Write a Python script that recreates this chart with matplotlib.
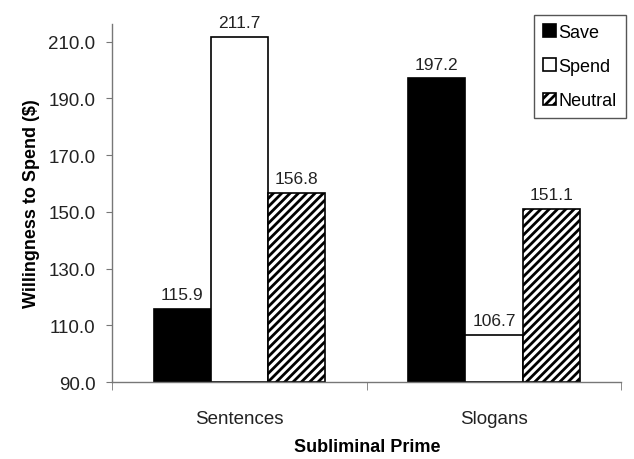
import numpy as np
import matplotlib
matplotlib.use("Agg")
import matplotlib.pyplot as plt
from matplotlib.ticker import FixedLocator, FormatStrFormatter

plt.rcParams['font.family'] = ['Liberation Sans', 'DejaVu Sans']
plt.rcParams['hatch.linewidth'] = 2.0

categories = ['Sentences', 'Slogans']
series = ['Save', 'Spend', 'Neutral']
save = [115.9, 197.2]
spend = [211.7, 106.7]
neutral = [156.8, 151.1]
yticks = [90, 110, 130, 150, 170, 190, 210]

fig = plt.figure(figsize=(6.34, 4.6), dpi=100)
ax = fig.add_axes([0.177, 0.167, 0.803, 0.779])

x = np.arange(len(categories))
w = 0.225
styles = [dict(color='black', edgecolor='black'),
          dict(color='white', edgecolor='black'),
          dict(color='white', edgecolor='black', hatch='////')]
for i, (vals, name, st) in enumerate(zip([save, spend, neutral], series, styles)):
    bars = ax.bar(x + (i - 1) * w, np.array(vals) - 90, bottom=90, width=w,
                  linewidth=1.2, label=name, **st)
    for b, v in zip(bars, vals):
        ax.text(b.get_x() + b.get_width() / 2, v + 2.3, f'{v:.1f}',
                ha='center', va='bottom', fontsize=12.5, color='#222222')

ax.set_xlim(-0.5, 1.5)
ax.set_ylim(90, 216.3)
ax.yaxis.set_major_locator(FixedLocator(yticks))
ax.yaxis.set_major_formatter(FormatStrFormatter('%.1f'))
ax.set_xticks(x)
ax.set_xticklabels(categories, fontsize=13.5, color='#222222')
ax.xaxis.set_minor_locator(FixedLocator([-0.5, 0.5, 1.5]))
ax.tick_params(axis='x', which='major', length=0, pad=20)
ax.tick_params(axis='x', which='minor', length=6, color='#777777', direction='out')
ax.tick_params(axis='y', length=4, color='#777777', labelsize=13.5, labelcolor='#222222', pad=8)

for s in ['top', 'right']:
    ax.spines[s].set_visible(False)
for s in ['left', 'bottom']:
    ax.spines[s].set_color('#777777')
    ax.spines[s].set_linewidth(1.0)

ax.set_ylabel('Willingness to Spend ($)', fontsize=13, fontweight='bold', labelpad=6)
ax.set_xlabel('Subliminal Prime', fontsize=13, fontweight='bold', labelpad=8)

leg = ax.legend(loc='upper right', bbox_to_anchor=(1.016, 1.035), fontsize=13,
                handlelength=0.7, handleheight=0.7, handletextpad=0.15,
                labelspacing=0.95, borderpad=0.5, borderaxespad=0.2,
                fancybox=False, framealpha=1)
leg.get_frame().set_edgecolor('#555555')
leg.get_frame().set_linewidth(1.0)

fig.savefig('out.png', dpi=100)
